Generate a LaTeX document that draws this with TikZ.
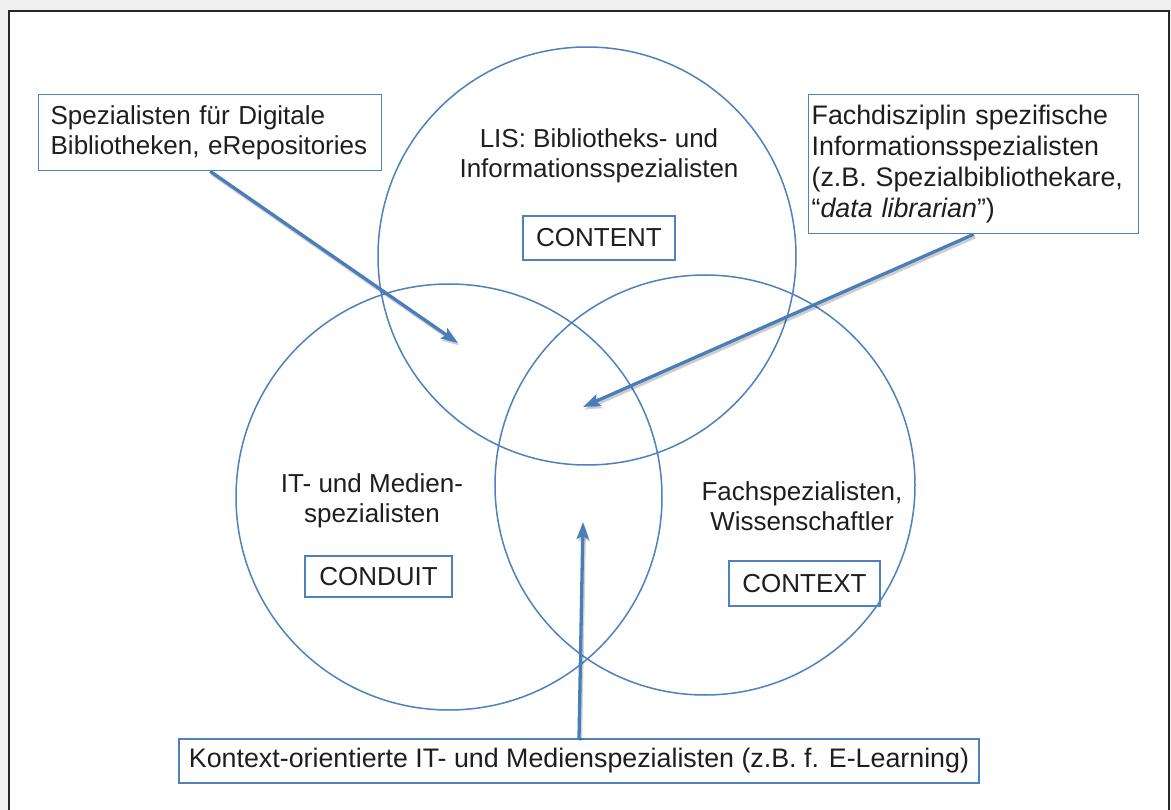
\documentclass[tikz,border=0pt]{standalone}
\usepackage{fontspec}
\setmainfont{Liberation Sans}
\usetikzlibrary{arrows.meta}
\definecolor{cblue}{HTML}{4F81BD}
\definecolor{ablue}{HTML}{4A7EBB}
\definecolor{tcol}{HTML}{1E1E1E}
\begin{document}
\begin{tikzpicture}[x=1pt,y=-1pt,
  txt/.style={font=\fontsize{26}{30}\selectfont, text=tcol, inner sep=0pt},
  box/.style={draw=cblue, line width=1.3pt, font=\fontsize{26}{30}\selectfont, text=tcol},
  circ/.style={draw=cblue, line width=1.5pt, circle, inner sep=0pt},
  arr/.style={-{Stealth[length=17pt,width=12pt,inset=3pt]}, draw=ablue, fill=ablue, line width=3.3pt},
  arrshadow/.style={-{Stealth[length=17pt,width=12pt,inset=3pt]}, draw=black, fill=black, line width=3.3pt, opacity=0.18, transform canvas={shift={(1.5pt,-2.5pt)}}}
]
\fill[black!6] (0,0) rectangle (1171,810);
\useasboundingbox (0,0) rectangle (1171,810);
\filldraw[fill=white, draw=black!85, line width=2.4pt] (9,11) rectangle (1169,830);

% circles
\node[circ, minimum size=418pt] (ctop) at (587,256) {};
\node[circ, minimum size=426pt] (cleft) at (449,497) {};
\node[circ, minimum size=420pt] (cright) at (705,485) {};

% texts inside circles
\node[txt, align=center] (lis) at (599,156) {LIS: Bibliotheks- und\\Informationsspezialisten};
\node[box, minimum width=152pt, minimum height=44pt, inner sep=0pt] (content) at (599,238) {CONTENT};
\node[txt, align=center] (it) at (372,501) {IT- und Medien-\\spezialisten};
\node[box, minimum width=147pt, minimum height=41pt, inner sep=0pt] (conduit) at (378.5,576.5) {CONDUIT};
\node[txt, align=center] (fach) at (802,506) {Fachspezialisten,\\Wissenschaftler};
\node[box, minimum width=151pt, minimum height=45pt, inner sep=0pt] (context) at (804.5,583.5) {CONTEXT};

% callout boxes
\node[box, anchor=north west, minimum width=343pt, minimum height=76pt, inner xsep=0pt, inner ysep=0pt, text width=331pt, align=left] (b1) at (38,94)
  {\hspace*{6pt}Spezialisten für Digitale\\\hspace*{6pt}Bibliotheken, eRepositories};
\node[box, anchor=north west, minimum width=330pt, minimum height=139pt, inner xsep=3pt, inner ysep=0pt, text width=324pt, align=left, font=\fontsize{26.8}{31}\selectfont] (b2) at (808,94)
  {Fachdisziplin spezifische\\Informationsspezialisten\\(z.B. Spezialbibliothekare,\\“\textit{data librarian}”)};
\node[box, minimum width=800pt, minimum height=44pt, inner sep=0pt, font=\fontsize{26.8}{31}\selectfont] (b3) at (579,761)
  {Kontext-orientierte IT- und Medienspezialisten (z.B. f. E-Learning)};

% arrow targets
\coordinate (t1) at (458,343);
\coordinate (t2) at (583,407);
\coordinate (t3) at (583,522);

% shadows
\draw[arrshadow] (b1.south) -- (t1);
\draw[arrshadow] (b2.south) -- (t2);
\draw[arrshadow] (b3.north) -- (t3);
% arrows
\draw[arr] (b1.south) -- (t1);
\draw[arr] (b2.south) -- (t2);
\draw[arr] (b3.north) -- (t3);
\end{tikzpicture}
\end{document}
